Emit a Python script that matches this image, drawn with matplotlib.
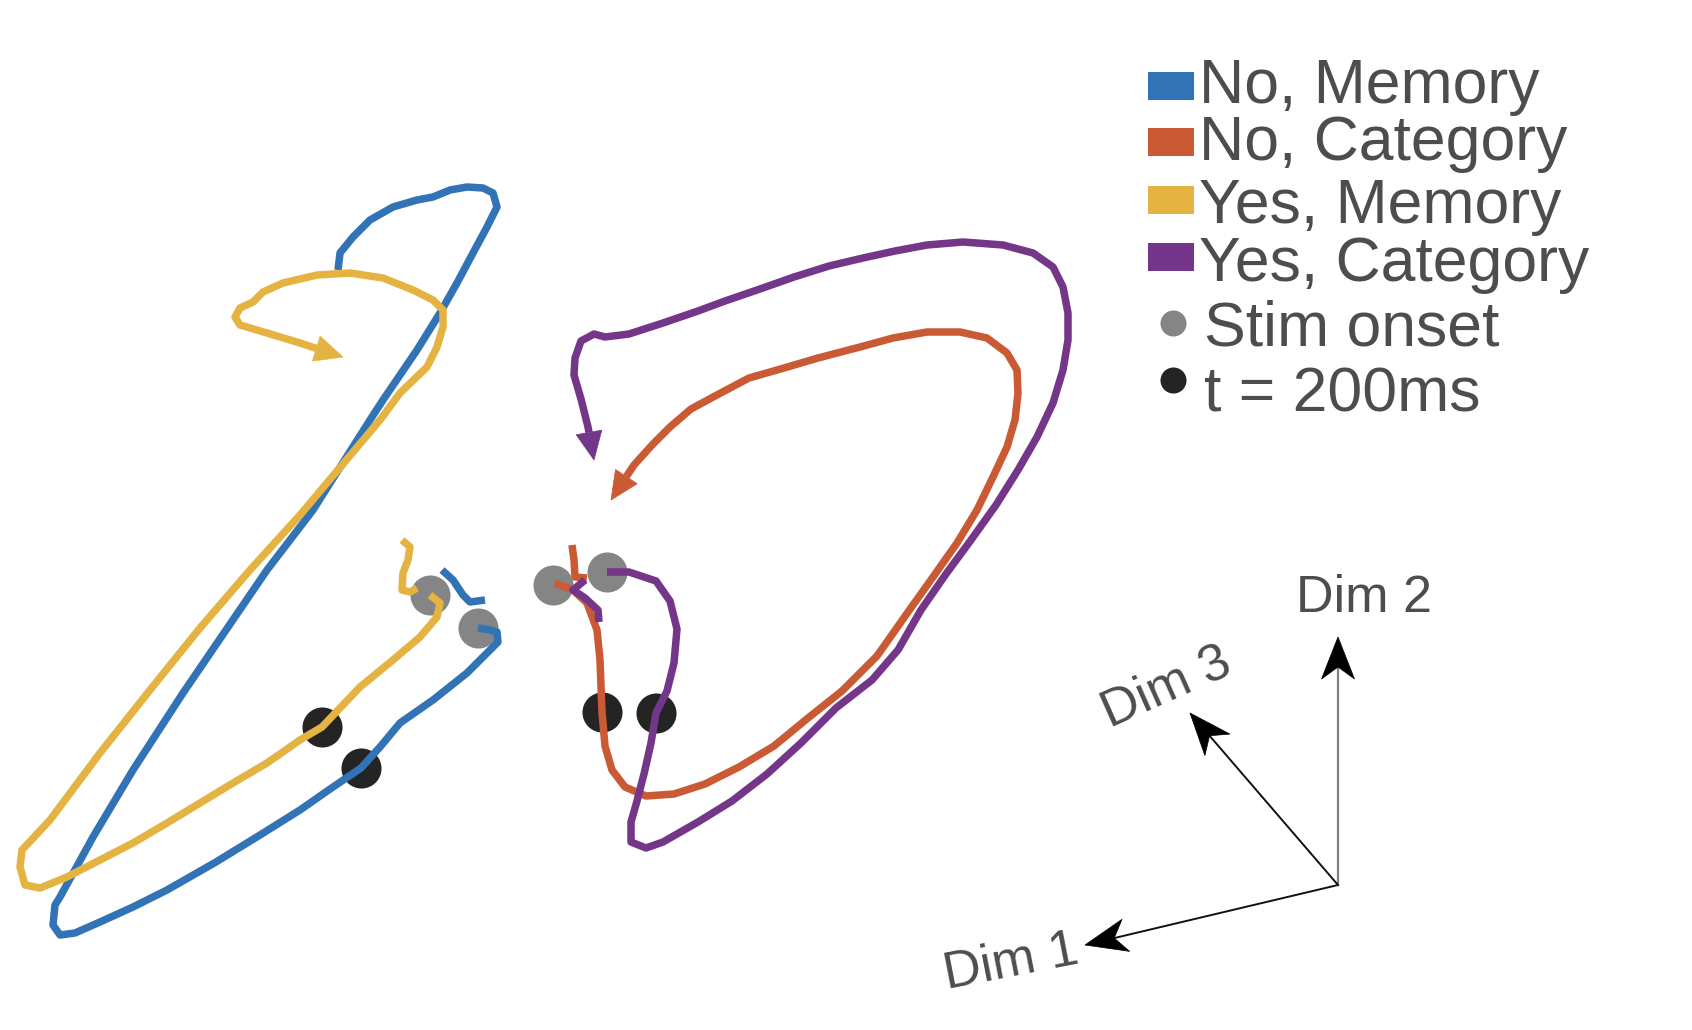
import matplotlib
matplotlib.use("Agg")
import matplotlib.pyplot as plt
from matplotlib.patches import Polygon, Rectangle
import numpy as np

plt.rcParams['font.family'] = ['Liberation Sans', 'DejaVu Sans']

# trajectories in the projected space (image units, y down)
labels = ["No, Memory", "No, Category", "Yes, Memory", "Yes, Category"]
colors = ["#3273B6", "#CA5A34", "#E4B342", "#743688"]

# No, Memory
nm_pre_x = [442, 453, 463, 470, 485]
nm_pre_y = [570, 580, 595, 602, 600]
nm_x = [478, 490, 497, 498, 487, 467, 433, 400, 380, 361, 333, 300, 260, 216, 167, 133, 100, 75, 60,
        53, 55, 60, 93, 133, 183, 267, 313, 370, 383, 417, 440, 457, 473, 487, 497, 493,
        483, 467, 450, 433, 417, 393, 370, 353, 340, 338]
nm_y = [628, 630, 632, 642, 653, 673, 700, 723, 747, 768, 787, 810, 835, 862, 890, 907, 922, 933, 935,
        925, 905, 897, 837, 770, 693, 570, 510, 420, 400, 350, 313, 283, 253, 227, 207, 193,
        188, 187, 190, 197, 200, 207, 220, 237, 253, 270]

# No, Category
nc_pre_x = [572, 574, 575, 587]
nc_pre_y = [545, 560, 577, 578]
nc_x = [555, 573, 587, 597, 600, 602, 605, 612, 625, 646, 674, 705, 739, 774, 808, 842, 877, 908,
        933, 957, 977, 993, 1007, 1015, 1018, 1017, 1007, 987, 960, 927, 893, 860, 818, 784, 749,
        715, 691, 670, 653, 634, 611]
nc_y = [583, 590, 603, 630, 660, 712, 746, 770, 787, 796, 794, 784, 767, 746, 718, 691, 656, 612,
        577, 543, 510, 477, 447, 420, 393, 370, 353, 338, 332, 332, 338, 347, 358, 368, 378,
        396, 409, 427, 444, 465, 500]

# Yes, Memory
ym_pre_x = [402, 410, 408, 403, 402, 410, 417]
ym_pre_y = [540, 547, 560, 573, 590, 592, 588]
ym_x = [430, 440, 437, 420, 393, 360, 322, 300, 267, 233, 200, 167, 133, 100, 67, 40, 25, 20, 22,
        50, 100, 150, 200, 250, 300, 380, 400, 427, 437, 443, 443, 433, 413, 383, 350, 317, 283,
        263, 253, 240, 235, 240, 267, 300, 327, 343]
ym_y = [595, 603, 617, 637, 660, 687, 727, 740, 763, 783, 803, 823, 843, 860, 877, 888, 885, 867,
        850, 820, 753, 690, 628, 570, 515, 420, 393, 367, 347, 327, 310, 300, 290, 278, 273, 275,
        283, 292, 302, 308, 317, 325, 333, 343, 352, 357]

# Yes, Category
yc_pre_x = [599, 598, 585, 573, 585]
yc_pre_y = [622, 610, 598, 590, 580]
yc_x = [607, 629, 656, 670, 677, 674, 667, 656, 651, 644, 637, 631, 631, 646, 663, 698, 732, 767,
        801, 836, 872, 898, 921, 946, 971, 996, 1018, 1037, 1053, 1063, 1068, 1068, 1063, 1053,
        1033, 1003, 963, 927, 895, 863, 829, 794, 760, 725, 698, 663, 629, 605, 594, 581, 575, 574,
        581, 588, 594]
yc_y = [572, 572, 581, 601, 629, 663, 691, 713, 743, 774, 801, 822, 842, 848, 842, 822, 801, 774,
        743, 708, 680, 650, 610, 574, 540, 505, 470, 437, 403, 370, 340, 313, 287, 267,
        253, 245, 242, 245, 251, 258, 266, 277, 289, 301, 311, 323, 334, 337, 334, 341, 358, 375,
        399, 427, 460]

onset_x = [478, 553, 430, 607]
onset_y = [628, 585, 595, 572]
t200_x = [361, 602, 322, 656]
t200_y = [768, 712, 727, 713]

# projection axes indicator
dim_labels = ["Dim 1", "Dim 2", "Dim 3"]
origin = (1338, 885)
dim_tips = [(1085, 945), (1338, 637), (1190, 713)]

W, H = 1692, 1030
fig = plt.figure(figsize=(W / 100, H / 100), dpi=100)
ax = fig.add_axes([0, 0, 1, 1])
ax.set_xlim(0, W)
ax.set_ylim(H, 0)
ax.axis("off")

LW = 5.4


def head(ax, px, py, tx, ty, L, Wd, color, notch=None, z=5):
    ux, uy = tx - px, ty - py
    n = np.hypot(ux, uy)
    ux, uy = ux / n, uy / n
    bx, by = tx - L * ux, ty - L * uy
    nx, ny = -uy, ux
    pts = [(tx, ty), (bx + Wd / 2 * nx, by + Wd / 2 * ny)]
    if notch is not None:
        pts.append((tx - notch * ux, ty - notch * uy))
    pts.append((bx - Wd / 2 * nx, by - Wd / 2 * ny))
    ax.add_patch(Polygon(pts, closed=True, facecolor=color, edgecolor=color, lw=0.5, zorder=z))
    return bx, by


# dots go under the lines
ax.scatter(onset_x, onset_y, s=40 ** 2 * 0.52, color="#858585", zorder=1, linewidths=0)
ax.scatter(t200_x, t200_y, s=40 ** 2 * 0.52, color="#242424", zorder=1, linewidths=0)

series = [
    (nm_pre_x, nm_pre_y, nm_x, nm_y, False),
    (nc_pre_x, nc_pre_y, nc_x, nc_y, True),
    (ym_pre_x, ym_pre_y, ym_x, ym_y, True),
    (yc_pre_x, yc_pre_y, yc_x, yc_y, True),
]
for i, (px, py, x, y, arrow) in enumerate(series):
    c = colors[i]
    z = 2 + i
    ax.plot(px, py, color=c, lw=LW, solid_joinstyle="round", solid_capstyle="butt", zorder=z)
    if arrow:
        bx, by = head(ax, x[-2], y[-2], x[-1], y[-1], 28, 26, c, z=z)
        ax.plot(x[:-1] + [bx], y[:-1] + [by], color=c, lw=LW, solid_joinstyle="round",
                solid_capstyle="butt", zorder=z)
    else:
        ax.plot(x, y, color=c, lw=LW, solid_joinstyle="round", solid_capstyle="butt", zorder=z)

# axes indicator
for k, (tx, ty) in enumerate(dim_tips):
    lc = "#808080" if k == 1 else "#111111"
    bx, by = head(ax, origin[0], origin[1], tx, ty, 42, 33, "black", notch=30, z=8)
    ax.plot([origin[0], tx - 0.6 * (tx - bx)], [origin[1], ty - 0.6 * (ty - by)],
            color=lc, lw=1.6 if k == 1 else 1.4, zorder=7)

txt_c = "#4D4D4F"
ax.text(1011, 963, dim_labels[0], fontsize=37.5, color=txt_c, rotation=11, ha="center",
        va="center", rotation_mode="anchor")
ax.text(1364, 599, dim_labels[1], fontsize=37.5, color=txt_c, ha="center", va="center")
ax.text(1166, 688, dim_labels[2], fontsize=37.5, color=txt_c, rotation=24, ha="center",
        va="center", rotation_mode="anchor")

# legend drawn by hand
leg_labels = labels + ["Stim onset", "t = 200ms"]
patch_tops = [72, 128, 186, 243]
baselines = [103, 160, 223, 281, 345, 412]
for i in range(4):
    ax.add_patch(Rectangle((1148, patch_tops[i]), 46, 28, facecolor=colors[i], edgecolor="none"))
ax.scatter([1173], [323], s=26 ** 2 * 0.52, color="#858585", linewidths=0)
ax.scatter([1173], [380], s=26 ** 2 * 0.52, color="#242424", linewidths=0)
for i, lab in enumerate(leg_labels):
    ax.text(1199 if i < 4 else 1204, baselines[i], lab, fontsize=45, color=txt_c,
            ha="left", va="baseline")

fig.savefig("out.png", dpi=100)
